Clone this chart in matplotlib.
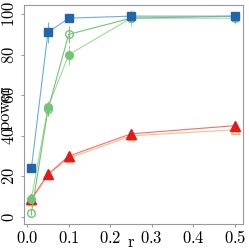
import matplotlib
matplotlib.use("Agg")
import matplotlib.pyplot as plt

plt.rcParams['mathtext.fontset'] = 'cm'
plt.rcParams['font.family'] = 'serif'
plt.rcParams['font.serif'] = ['DejaVu Serif']

# data
r = [0.01, 0.05, 0.1, 0.25, 0.5]
blue_sq = [24, 91, 98, 99, 99]
blue_err = [1, 5, 1, 1, 1]
green_fill = [9, 54, 80, 98, 98]
green_fill_err = [1, 3, 5, 4, 3]
green_open = [2, 53, 90, 98, 99]
green_open_err = [1, 3, 4, 2, 1]
red_fill = [9, 21, 30, 41, 45]
red_fill_err = [1, 1, 1, 1, 1]
red_open = [8, 21, 29, 40, 43]
red_open_err = [1, 1, 1, 2, 2]

xticks = [0.0, 0.1, 0.2, 0.3, 0.4, 0.5]
yticks = [0, 20, 40, 60, 80, 100]

fig = plt.figure(figsize=(2.49, 2.49), dpi=100)
ax = fig.add_axes([0.096, 0.100, 0.880, 0.880])

ax.errorbar(r, red_open, yerr=red_open_err, color='#fdbb84', lw=0.8, marker='^', ms=6,
            mfc='none', mec='#fdae6b', elinewidth=0.8, capsize=0)
ax.errorbar(r, red_fill, yerr=red_fill_err, color='#f46d6d', lw=0.8, marker='^', ms=6.5,
            mfc='#e31a1c', mec='#e31a1c', elinewidth=0.8, capsize=0)
ax.errorbar(r, green_fill, yerr=green_fill_err, color='#a1d99b', lw=0.8, marker='o', ms=5.5,
            mfc='#74c476', mec='#74c476', elinewidth=0.8, capsize=0)
ax.errorbar(r, green_open, yerr=green_open_err, color='#74c476', lw=0.8, marker='o', ms=5.5,
            mfc='none', mec='#74c476', elinewidth=0.8, capsize=0)
ax.errorbar(r, blue_sq, yerr=blue_err, color='#6baed6', lw=0.8, marker='s', ms=5.5,
            mfc='#2166ac', mec='#2166ac', elinewidth=0.8, ecolor='#6baed6', capsize=0)

ax.set_xlim(-0.008, 0.52)
ax.set_ylim(-3.5, 104.5)
ax.set_xticks(xticks)
ax.set_xticklabels([f'${t:.1f}$' for t in xticks], fontsize=12)
ax.set_yticks(yticks)
ax.set_yticklabels([f'${t}$' for t in yticks], fontsize=12, rotation=90, va='center')
ax.tick_params(length=2.5, width=0.6, color='#888888', pad=2)

for s in ax.spines.values():
    s.set_color('#999999')
    s.set_linewidth(0.8)

ax.set_xlabel('$\\mathrm{r}$', fontsize=12)
ax.set_ylabel('$\\mathrm{power}$', fontsize=12)
ax.xaxis.set_label_coords(0.49, -0.045)
ax.yaxis.set_label_coords(-0.04, 0.53)

fig.savefig('out.png', dpi=100)
